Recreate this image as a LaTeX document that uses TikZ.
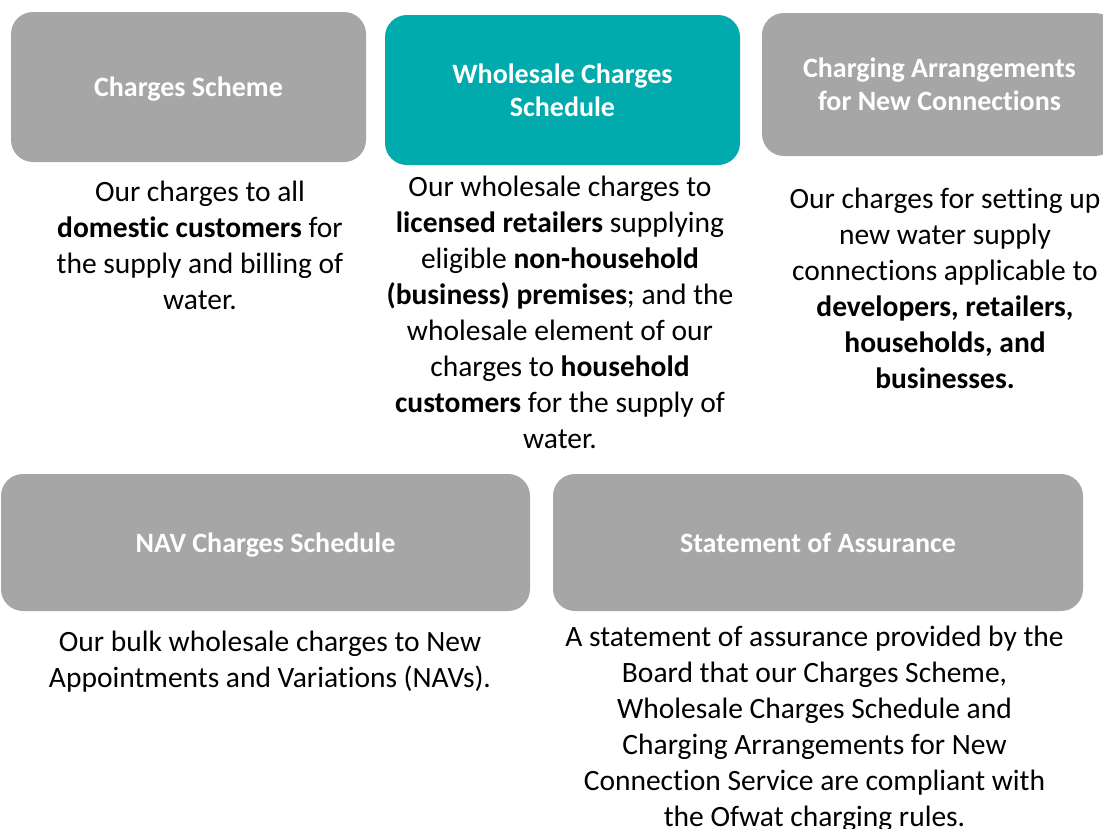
\documentclass[tikz,border=0pt]{standalone}
\usepackage{fontspec}
\setmainfont{Carlito}[Ligatures=NoCommon]
\definecolor{boxgrey}{HTML}{A6A6A6}
\definecolor{boxteal}{HTML}{00AAAD}
\tikzset{
	docbox/.style={rounded corners=22pt, minimum width=355pt, minimum height=150pt, text=white, align=center, inner sep=0pt, text depth=0pt, font=\fontsize{28}{33}\selectfont\bfseries},
	greybox/.style={docbox, fill=boxgrey},
	tealbox/.style={docbox, fill=boxteal},
	desc/.style={anchor=north, align=center, inner sep=0pt, font=\fontsize{29.5}{36}\selectfont}
}

\begin{document}
\begin{tikzpicture}[x=1pt, y=-1pt]
	\useasboundingbox (0,0) rectangle (1103,828);
	\clip (0,0) rectangle (1103,828);
	\node[greybox](scheme) at (188.5, 87){Charges Scheme};
	\node[tealbox](wholesale) at (562.5, 90){Wholesale Charges\\Schedule};
	\node[greybox, minimum height=143pt](connections) at (939.5, 84.5){Charging Arrangements\\for New Connections};
	\node[greybox, minimum width=529pt, minimum height=137pt](nav) at (265.5, 542.5){NAV Charges Schedule};
	\node[greybox, minimum width=530pt, minimum height=137pt](assurance) at (818, 542.5){Statement of Assurance};
	\node[desc](schemetext) at (200, 181){Our charges to all\\\textbf{domestic customers} for\\the supply and billing of\\water.};
	\node[desc](wholesaletext) at (560, 176){Our wholesale charges to\\\textbf{licensed retailers} supplying\\eligible \textbf{non-household}\\\textbf{(business) premises}; and the\\wholesale element of our\\charges to \textbf{household}\\\textbf{customers} for the supply of\\water.};
	\node[desc](connectionstext) at (945, 188){Our charges for setting up\\new water supply\\connections applicable to\\\textbf{developers, retailers,}\\\textbf{households, and}\\\textbf{businesses.}};
	\node[desc](navtext) at (270, 631){Our bulk wholesale charges to New\\Appointments and Variations (NAVs).};
	\node[desc](assurancetext) at (814.5, 626){A statement of assurance provided by the\\Board that our Charges Scheme,\\Wholesale Charges Schedule and\\Charging Arrangements for New\\Connection Service are compliant with\\the Ofwat charging rules.};
\end{tikzpicture}
\end{document}
